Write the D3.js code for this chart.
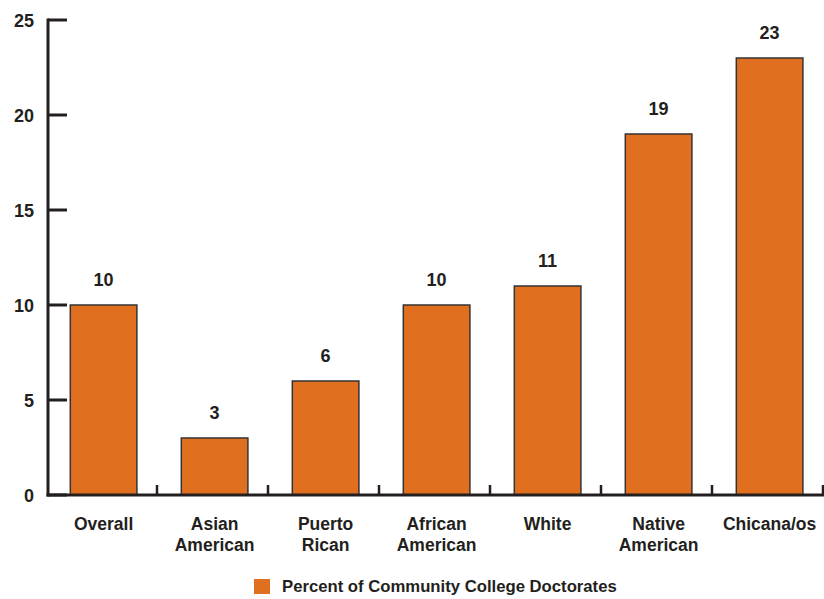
<!DOCTYPE html>
<html><head><meta charset="utf-8">
<script src="https://cdn.jsdelivr.net/npm/d3@7"></script>
<style>body{margin:0;background:#fff}svg{display:block}text{font-family:"Liberation Sans",Arial,sans-serif;font-weight:bold;fill:#231f20}</style>
</head><body>
<script>
const categories = [["Overall"],["Asian","American"],["Puerto","Rican"],["African","American"],["White"],["Native","American"],["Chicana/os"]];
const values = [10,3,6,10,11,19,23];
const yTicks = [0,5,10,15,20,25];
const seriesName = "Percent of Community College Doctorates";

const W=824,H=599;
const svg=d3.select("body").append("svg").attr("width",W).attr("height",H);
const xb=d3.scaleBand().domain(d3.range(categories.length)).range([47,824]);
const y=d3.scaleLinear().domain([0,25]).range([495,20]);
const color="#e0701f";

// bars
svg.selectAll("rect.bar").data(values).join("rect").attr("class","bar")
 .attr("x",(d,i)=>xb(i)+xb.bandwidth()*0.21).attr("width",xb.bandwidth()*0.6)
 .attr("y",d=>y(d)).attr("height",d=>y(0)-y(d))
 .attr("fill",color).attr("stroke","#333").attr("stroke-width",1.5);

// value labels
svg.selectAll("text.val").data(values).join("text").attr("class","val")
 .attr("x",(d,i)=>xb(i)+xb.bandwidth()*0.51).attr("y",d=>y(d)-19)
 .attr("text-anchor","middle").attr("font-size",18).text(d=>d);

// y axis
svg.append("line").attr("x1",48).attr("x2",48).attr("y1",y(25)-1.5).attr("y2",y(0)+1.5).attr("stroke","#231f20").attr("stroke-width",3);
svg.selectAll("line.yt").data(yTicks).join("line").attr("class","yt")
 .attr("x1",48).attr("x2",67).attr("y1",d=>y(d)).attr("y2",d=>y(d)).attr("stroke","#231f20").attr("stroke-width",3);
svg.selectAll("text.yl").data(yTicks).join("text").attr("class","yl")
 .attr("x",34).attr("y",d=>y(d)+6.5).attr("text-anchor","end").attr("font-size",18).text(d=>d);

// x axis
svg.append("line").attr("x1",46.5).attr("x2",824).attr("y1",y(0)).attr("y2",y(0)).attr("stroke","#231f20").attr("stroke-width",3);
svg.selectAll("line.xt").data(d3.range(1,categories.length+1)).join("line").attr("class","xt")
 .attr("x1",i=>xb.step()*i+47-1).attr("x2",i=>xb.step()*i+47-1).attr("y1",y(0)).attr("y2",y(0)-10)
 .attr("stroke","#231f20").attr("stroke-width",2.5);

// category labels
const cl=svg.selectAll("text.cat").data(categories).join("text").attr("class","cat")
 .attr("text-anchor","middle").attr("font-size",17.5)
 .attr("transform",(d,i)=>`translate(${xb(i)+xb.bandwidth()*0.51},530)`);
cl.selectAll("tspan").data(d=>d).join("tspan").attr("x",0).attr("dy",(d,j)=>j?21:0).text(d=>d);

// legend
svg.append("rect").attr("x",254).attr("y",579).attr("width",16).attr("height",15).attr("fill",color);
svg.append("text").attr("x",282).attr("y",592).attr("font-size",16.7).text(seriesName);
</script>
</body></html>
